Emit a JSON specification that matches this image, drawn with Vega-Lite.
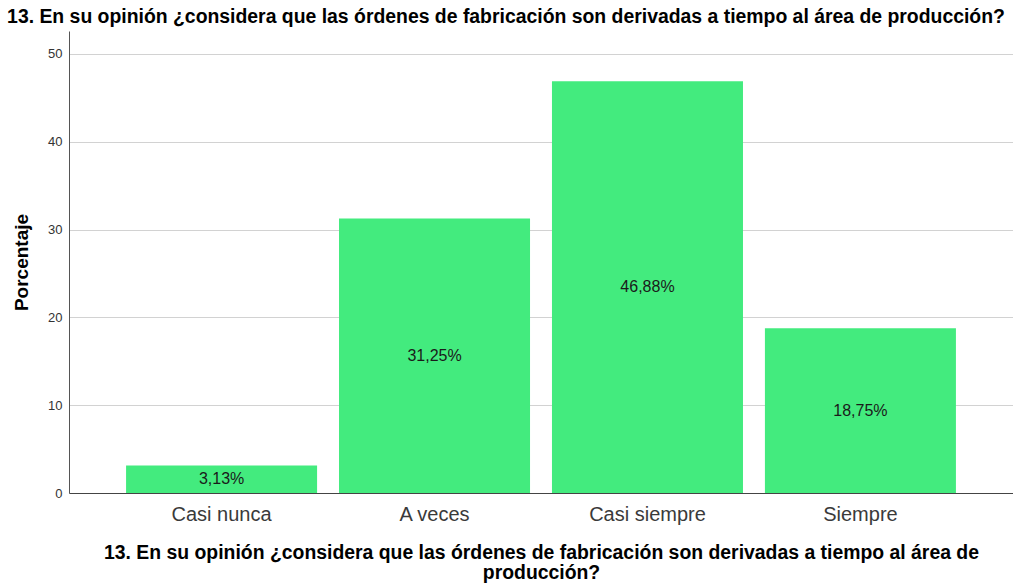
{
  "$schema": "https://vega.github.io/schema/vega-lite/v6.json",
  "width": 944,
  "height": 462,
  "autosize": {"type": "none"},
  "padding": {"left": 69, "top": 31, "right": 0, "bottom": 92},
  "background": "white",
  "title": {
    "text": "13. En su opinión ¿considera que las órdenes de fabricación son derivadas a tiempo al área de producción?",
    "font": "Liberation Sans",
    "fontSize": 19.4,
    "fontWeight": "bold",
    "color": "#000000",
    "anchor": "middle",
    "frame": "group",
    "dx": -35,
    "baseline": "alphabetic",
    "offset": 9,
    "dy": 20
  },
  "config": {
    "view": {"stroke": null},
    "font": "Liberation Sans"
  },
  "data": {
    "values": [
      {"cat": "Casi nunca", "pct": 3.13, "label": "3,13%"},
      {"cat": "A veces", "pct": 31.25, "label": "31,25%"},
      {"cat": "Casi siempre", "pct": 46.88, "label": "46,88%"},
      {"cat": "Siempre", "pct": 18.75, "label": "18,75%"}
    ]
  },
  "encoding": {
    "x": {
      "field": "cat",
      "type": "nominal",
      "sort": null,
      "scale": {"paddingInner": 0.103, "paddingOuter": 0.268},
      "axis": {
        "title": ["13. En su opinión ¿considera que las órdenes de fabricación son derivadas a tiempo al área de", "producción?"],
        "titleFont": "Liberation Sans",
        "titleFontSize": 19.4,
        "titleFontWeight": "bold",
        "titleColor": "#000000",
        "titleBaseline": "top",
        "titleY": 50,
        "titleLineHeight": 20.5,
        "labelAngle": 0,
        "labelFont": "Liberation Sans",
        "labelFontSize": 20,
        "labelColor": "#3a3a3a",
        "labelBaseline": "alphabetic",
        "labelPadding": 27,
        "ticks": false,
        "tickSize": 0,
        "domainColor": "#444444",
        "domainWidth": 1,
        "grid": false
      }
    }
  },
  "layer": [
    {
      "mark": {"type": "bar", "color": "#43EB7E"},
      "encoding": {
        "y": {
          "field": "pct",
          "type": "quantitative",
          "scale": {"domain": [0, 52.6], "nice": false, "zero": true},
          "axis": {
            "values": [0, 10, 20, 30, 40, 50],
            "title": "Porcentaje",
            "titleFont": "Liberation Sans",
            "titleFontSize": 19,
            "titleFontWeight": "bold",
            "titleColor": "#000000",
            "titleAngle": -90,
            "titleBaseline": "alphabetic",
            "titleAlign": "center",
            "titleX": -42,
            "titleY": 231,
            "labelFont": "Liberation Sans",
            "labelFontSize": 13,
            "labelColor": "#333333",
            "labelPadding": 7,
            "ticks": false,
            "tickSize": 0,
            "grid": true,
            "gridColor": "#d2d2d2",
            "gridWidth": 1,
            "domainColor": "#555555",
            "domainWidth": 1
          }
        }
      }
    },
    {
      "mark": {"type": "text", "font": "Liberation Sans", "fontSize": 16, "color": "#1a1a1a", "baseline": "middle", "align": "center"},
      "encoding": {
        "y": {
          "field": "pct",
          "type": "quantitative",
          "scale": {"domain": [0, 105.2], "nice": false, "zero": true},
          "axis": null
        },
        "text": {"field": "label"}
      }
    }
  ],
  "resolve": {"scale": {"y": "independent"}}
}
